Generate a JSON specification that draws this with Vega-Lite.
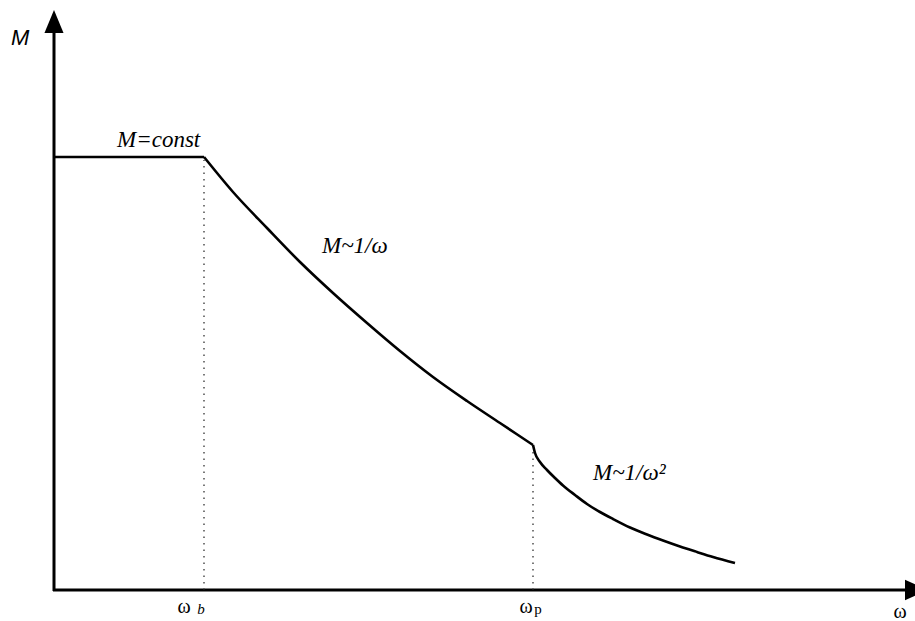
{
  "$schema": "https://vega.github.io/schema/vega-lite/v6.json",
  "width": 915,
  "height": 621,
  "autosize": {"type": "none"},
  "padding": 0,
  "background": "white",
  "config": {"view": {"stroke": null}},
  "layer": [
    {
      "data": {"values": [
        {"x": 0, "y": -1, "x2": 0, "y2": 558},
        {"x": -1, "y": 0, "x2": 852, "y2": 0}
      ]},
      "mark": {"type": "rule", "color": "black", "strokeWidth": 3},
      "encoding": {
        "x": {"field": "x", "type": "quantitative", "scale": {"domain": [-54, 861], "nice": false, "zero": false}, "axis": null},
        "y": {"field": "y", "type": "quantitative", "scale": {"domain": [-31, 590], "nice": false, "zero": false}, "axis": null},
        "x2": {"field": "x2"},
        "y2": {"field": "y2"}
      }
    },
    {
      "data": {"values": [{"x": 0, "y": 568.5}]},
      "mark": {"type": "point", "shape": "M0,-1L0.83,1L-0.83,1Z", "size": 529, "filled": true, "color": "black", "opacity": 1},
      "encoding": {
        "x": {"field": "x", "type": "quantitative"},
        "y": {"field": "y", "type": "quantitative"}
      }
    },
    {
      "data": {"values": [{"x": 862.5, "y": 0}]},
      "mark": {"type": "point", "shape": "M1,0L-1,0.9L-1,-0.9Z", "size": 529, "filled": true, "color": "black", "opacity": 1},
      "encoding": {
        "x": {"field": "x", "type": "quantitative"},
        "y": {"field": "y", "type": "quantitative"}
      }
    },
    {
      "data": {"values": [
        {"x": 150, "y": 0, "y2": 430},
        {"x": 479, "y": 0, "y2": 142}
      ]},
      "mark": {"type": "rule", "color": "#222", "strokeWidth": 1.2, "strokeDash": [1.5, 5]},
      "encoding": {
        "x": {"field": "x", "type": "quantitative"},
        "y": {"field": "y", "type": "quantitative"},
        "y2": {"field": "y2"}
      }
    },
    {
      "data": {"values": [
        {"seg": "a", "x": 0, "y": 433}, {"seg": "a", "x": 150, "y": 433},
        {"seg": "b", "x": 150, "y": 433}, {"seg": "b", "x": 179, "y": 398},
        {"seg": "b", "x": 213, "y": 362}, {"seg": "b", "x": 246, "y": 328},
        {"seg": "b", "x": 279, "y": 297}, {"seg": "b", "x": 313, "y": 267},
        {"seg": "b", "x": 346, "y": 239}, {"seg": "b", "x": 379, "y": 213},
        {"seg": "b", "x": 413, "y": 189}, {"seg": "b", "x": 446, "y": 167},
        {"seg": "b", "x": 479, "y": 145},
        {"seg": "c", "x": 479, "y": 145}, {"seg": "c", "x": 481, "y": 137},
        {"seg": "c", "x": 486, "y": 128}, {"seg": "c", "x": 493, "y": 120},
        {"seg": "c", "x": 501, "y": 112}, {"seg": "c", "x": 509, "y": 104.5},
        {"seg": "c", "x": 521, "y": 95}, {"seg": "c", "x": 533, "y": 86},
        {"seg": "c", "x": 546, "y": 78}, {"seg": "c", "x": 559, "y": 71},
        {"seg": "c", "x": 576, "y": 62.5}, {"seg": "c", "x": 593, "y": 55.5},
        {"seg": "c", "x": 609, "y": 49.5}, {"seg": "c", "x": 626, "y": 43.5},
        {"seg": "c", "x": 643, "y": 38}, {"seg": "c", "x": 659, "y": 33},
        {"seg": "c", "x": 681, "y": 27}
      ]},
      "mark": {"type": "line", "color": "black", "strokeWidth": 2.6, "strokeJoin": "round", "interpolate": "monotone"},
      "encoding": {
        "x": {"field": "x", "type": "quantitative"},
        "y": {"field": "y", "type": "quantitative"},
        "detail": {"field": "seg", "type": "nominal"}
      }
    },
    {
      "data": {"values": [{"x": -43, "y": 545, "label": "M"}]},
      "mark": {"type": "text", "align": "left", "baseline": "alphabetic", "font": "Liberation Sans", "fontStyle": "italic", "fontSize": 22, "color": "black"},
      "encoding": {
        "x": {"field": "x", "type": "quantitative"},
        "y": {"field": "y", "type": "quantitative"},
        "text": {"field": "label"}
      }
    },
    {
      "data": {"values": [
        {"x": 63, "y": 443, "label": "M=const"},
        {"x": 268, "y": 337, "label": "M~1/ω"},
        {"x": 539, "y": 110, "label": "M~1/ω²"}
      ]},
      "mark": {"type": "text", "align": "left", "baseline": "alphabetic", "font": "Liberation Serif", "fontStyle": "italic", "fontSize": 23, "color": "black"},
      "encoding": {
        "x": {"field": "x", "type": "quantitative"},
        "y": {"field": "y", "type": "quantitative"},
        "text": {"field": "label"}
      }
    },
    {
      "data": {"values": [
        {"x": 130, "y": -23, "label": "ω"},
        {"x": 472, "y": -23, "label": "ω"},
        {"x": 846, "y": -28, "label": "ω"}
      ]},
      "mark": {"type": "text", "align": "center", "baseline": "alphabetic", "font": "Liberation Serif", "fontSize": 20, "color": "black"},
      "encoding": {
        "x": {"field": "x", "type": "quantitative"},
        "y": {"field": "y", "type": "quantitative"},
        "text": {"field": "label"}
      }
    },
    {
      "data": {"values": [{"x": 147, "y": -24, "label": "b"}]},
      "mark": {"type": "text", "align": "center", "baseline": "alphabetic", "font": "Liberation Serif", "fontStyle": "italic", "fontSize": 15, "color": "black"},
      "encoding": {
        "x": {"field": "x", "type": "quantitative"},
        "y": {"field": "y", "type": "quantitative"},
        "text": {"field": "label"}
      }
    },
    {
      "data": {"values": [{"x": 484, "y": -24, "label": "p"}]},
      "mark": {"type": "text", "align": "center", "baseline": "alphabetic", "font": "Liberation Serif", "fontSize": 15, "color": "black"},
      "encoding": {
        "x": {"field": "x", "type": "quantitative"},
        "y": {"field": "y", "type": "quantitative"},
        "text": {"field": "label"}
      }
    }
  ]
}
